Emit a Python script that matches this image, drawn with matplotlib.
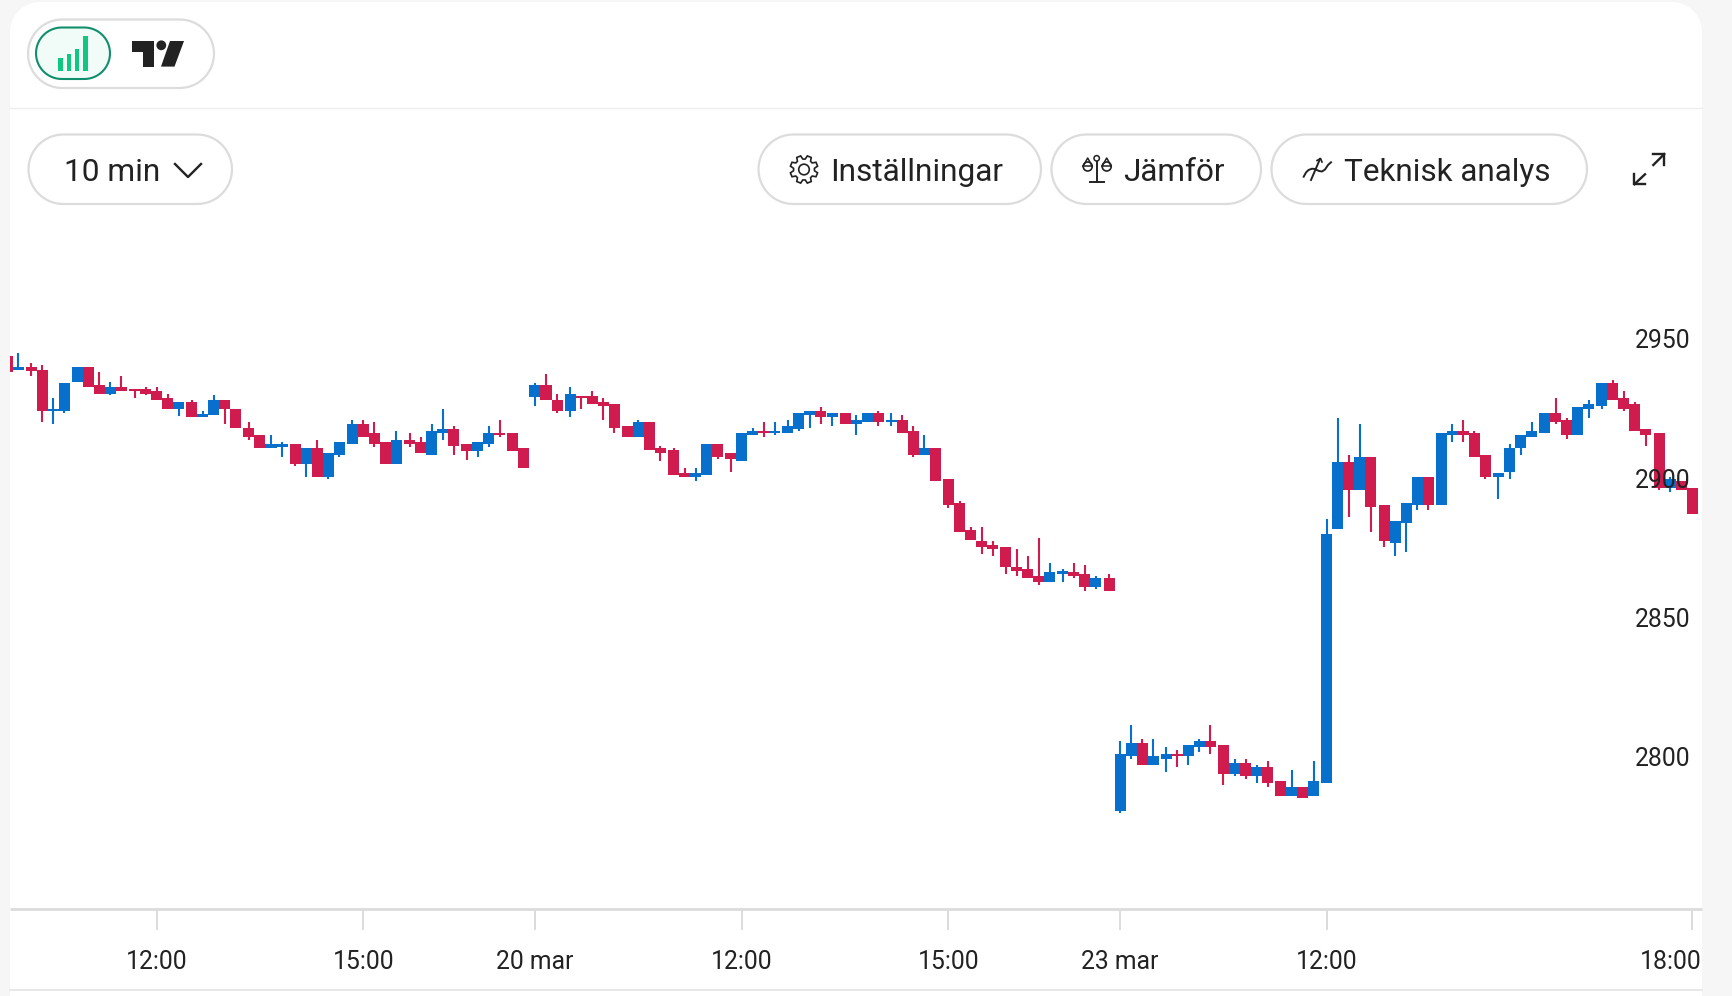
import numpy as np
import matplotlib
matplotlib.use('Agg')
import matplotlib.pyplot as plt
from matplotlib.patches import Circle, Polygon, Rectangle
from matplotlib.transforms import ScaledTranslation

plt.rcParams['font.family'] = ['Roboto', 'DejaVu Sans']

# 10 min candles, one value per bar
opens = [
    2943.7, 2938.9, 2939.7, 2938.9, 2924.1, 2924.1, 2934.3, 2939.7, 2933.4, 2930.3,
    2932.6, 2931.8, 2931.8, 2931.1, 2928.7, 2924.8, 2927.1, 2921.7, 2922.5, 2927.9,
    2924.8, 2917.8, 2915.3, 2910.6, 2911.3, 2912.2, 2905.1, 2910.6, 2900.4, 2908.2,
    2912.2, 2919.2, 2916.1, 2913.0, 2905.1, 2913.7, 2912.9, 2908.2, 2916.1, 2917.7,
    2912.2, 2909.8, 2912.2, 2916.1, 2916.1, 2910.6, 2928.9, 2933.4, 2928.0, 2924.1,
    2929.5, 2929.5, 2927.1, 2926.4, 2918.5, 2914.6, 2920.1, 2910.6, 2909.9, 2901.9,
    2900.5, 2901.2, 2912.2, 2909.1, 2906.0, 2915.4, 2917.0, 2916.1, 2916.1, 2917.7,
    2922.5, 2924.0, 2921.7, 2923.2, 2919.3, 2920.2, 2923.2, 2920.1, 2920.9, 2917.0,
    2908.4, 2910.6, 2899.5, 2890.9, 2881.5, 2877.5, 2876.0, 2875.1, 2868.1, 2867.3,
    2864.9, 2862.6, 2865.7, 2866.4, 2865.7, 2861.0, 2864.2, 2780.6, 2800.2, 2804.9,
    2797.1, 2799.4, 2801.0, 2800.2, 2803.5, 2805.7, 2804.2, 2793.9, 2797.9, 2793.1,
    2796.3, 2791.5, 2786.0, 2789.1, 2786.0, 2790.8, 2881.6, 2905.8, 2895.7, 2907.4,
    2890.2, 2876.8, 2883.9, 2890.2, 2900.3, 2890.2, 2915.4, 2916.8, 2916.1, 2908.2,
    2900.3, 2902.0, 2910.6, 2914.6, 2916.1, 2923.2, 2920.8, 2915.4, 2924.8, 2925.7,
    2934.2, 2928.7, 2926.4, 2917.7, 2916.1, 2896.5, 2898.8, 2896.4]
closes = [
    2938.1, 2939.7, 2938.2, 2924.1, 2924.8, 2934.2, 2939.7, 2932.7, 2930.3, 2932.6,
    2931.2, 2931.2, 2930.3, 2927.9, 2924.8, 2927.1, 2921.7, 2923.0, 2927.9, 2924.8,
    2917.8, 2914.6, 2910.6, 2912.2, 2912.2, 2905.1, 2910.6, 2900.4, 2908.9, 2913.0,
    2919.2, 2914.6, 2912.2, 2905.1, 2913.7, 2912.2, 2909.1, 2916.9, 2917.7, 2911.5,
    2909.8, 2913.0, 2916.1, 2915.3, 2909.8, 2903.5, 2933.4, 2928.1, 2924.1, 2930.3,
    2928.8, 2926.4, 2925.7, 2917.8, 2914.6, 2920.1, 2909.9, 2909.1, 2901.2, 2900.5,
    2901.9, 2912.2, 2907.5, 2906.7, 2916.1, 2917.0, 2916.1, 2917.0, 2918.5, 2923.2,
    2924.0, 2921.7, 2923.2, 2919.3, 2920.9, 2923.2, 2920.2, 2920.9, 2916.3, 2908.4,
    2910.6, 2898.9, 2890.2, 2880.8, 2877.7, 2875.3, 2874.5, 2868.1, 2866.5, 2864.2,
    2862.6, 2866.4, 2866.5, 2865.0, 2861.0, 2864.2, 2859.4, 2801.0, 2804.9, 2797.1,
    2800.2, 2801.0, 2800.2, 2804.2, 2805.7, 2803.5, 2793.9, 2797.9, 2793.1, 2796.3,
    2790.8, 2786.0, 2789.1, 2785.3, 2791.5, 2879.9, 2905.8, 2895.7, 2907.4, 2889.5,
    2877.6, 2884.6, 2890.9, 2900.3, 2890.2, 2916.1, 2916.8, 2915.4, 2907.5, 2900.3,
    2901.9, 2910.6, 2915.3, 2917.0, 2923.2, 2920.1, 2915.4, 2925.6, 2926.4, 2934.2,
    2928.0, 2924.8, 2917.0, 2915.4, 2896.5, 2899.6, 2895.7, 2887.0]
highs = [
    2943.7, 2944.7, 2941.3, 2940.6, 2928.8, 2934.2, 2939.7, 2939.7, 2938.1, 2934.3,
    2936.7, 2931.8, 2932.7, 2932.7, 2930.3, 2927.1, 2927.9, 2923.9, 2929.6, 2927.9,
    2924.8, 2920.1, 2915.3, 2915.3, 2913.0, 2912.2, 2910.6, 2913.8, 2908.9, 2913.0,
    2920.9, 2920.9, 2920.1, 2913.0, 2916.9, 2916.1, 2914.6, 2919.2, 2924.7, 2918.5,
    2912.2, 2913.0, 2918.5, 2920.9, 2916.1, 2910.6, 2934.2, 2937.4, 2930.3, 2932.6,
    2929.5, 2931.1, 2928.8, 2926.4, 2918.5, 2920.9, 2920.1, 2911.5, 2910.6, 2903.6,
    2903.6, 2912.2, 2912.2, 2909.1, 2916.1, 2917.8, 2920.1, 2920.1, 2920.9, 2923.2,
    2924.0, 2925.6, 2923.2, 2923.2, 2922.5, 2923.2, 2924.0, 2923.2, 2922.5, 2918.5,
    2915.4, 2910.6, 2899.5, 2891.8, 2882.3, 2882.3, 2877.5, 2875.1, 2874.4, 2872.0,
    2878.4, 2869.6, 2867.3, 2869.6, 2868.8, 2864.9, 2865.7, 2805.7, 2811.4, 2806.6,
    2806.6, 2803.4, 2802.6, 2804.2, 2806.6, 2811.4, 2804.2, 2799.4, 2799.4, 2797.0,
    2798.6, 2791.5, 2795.5, 2789.1, 2798.6, 2885.4, 2921.6, 2908.2, 2919.2, 2907.4,
    2890.2, 2884.6, 2890.9, 2900.3, 2900.3, 2916.1, 2919.2, 2920.8, 2916.8, 2908.2,
    2901.9, 2912.2, 2915.3, 2920.1, 2923.2, 2928.7, 2921.6, 2925.6, 2928.0, 2934.2,
    2935.0, 2931.1, 2927.1, 2917.7, 2916.1, 2900.5, 2898.8, 2896.4]
lows = [
    2938.1, 2938.9, 2936.7, 2920.2, 2919.4, 2923.4, 2934.3, 2932.7, 2930.3, 2929.6,
    2931.2, 2928.8, 2929.6, 2927.9, 2924.8, 2922.3, 2921.7, 2921.7, 2922.5, 2919.4,
    2917.8, 2913.7, 2910.6, 2910.6, 2907.4, 2904.3, 2900.4, 2900.4, 2899.6, 2907.4,
    2912.2, 2914.6, 2911.3, 2905.1, 2905.1, 2911.3, 2909.1, 2908.2, 2913.7, 2908.2,
    2906.6, 2907.4, 2911.3, 2914.6, 2909.8, 2903.5, 2925.7, 2928.1, 2923.3, 2921.7,
    2924.8, 2926.4, 2920.9, 2916.2, 2914.6, 2914.6, 2909.9, 2906.0, 2901.2, 2900.5,
    2898.8, 2901.2, 2906.7, 2902.0, 2906.0, 2915.4, 2914.6, 2915.3, 2916.1, 2917.0,
    2917.8, 2919.3, 2918.5, 2919.3, 2915.4, 2920.2, 2918.5, 2918.5, 2916.3, 2907.5,
    2908.4, 2898.9, 2889.4, 2880.8, 2877.7, 2872.9, 2872.0, 2865.7, 2865.0, 2864.2,
    2861.8, 2862.6, 2862.6, 2864.2, 2859.4, 2860.2, 2859.4, 2779.8, 2799.4, 2797.1,
    2797.1, 2794.7, 2796.3, 2797.1, 2801.8, 2801.1, 2790.0, 2793.1, 2792.2, 2790.8,
    2789.1, 2786.0, 2786.0, 2785.3, 2786.0, 2790.8, 2881.6, 2886.2, 2895.7, 2880.7,
    2875.1, 2872.0, 2873.6, 2888.6, 2888.6, 2890.2, 2913.0, 2913.0, 2907.5, 2899.6,
    2892.6, 2899.6, 2908.2, 2914.6, 2916.1, 2919.2, 2913.9, 2915.4, 2921.6, 2924.8,
    2928.0, 2924.0, 2917.0, 2911.5, 2895.7, 2894.9, 2895.7, 2887.0]

# bars after which the screen snapping leaves a small gap
wide_steps = [1, 5, 10, 15, 20, 24, 29, 34, 39, 43, 48, 53, 57, 62, 67, 72, 76, 81,
              86, 91, 95, 100, 105, 110, 114, 119, 124, 129, 133, 138, 143]

tick_bars = [13, 31, 46, 64, 82, 97, 115, 147]
tick_labels = ['12:00', '15:00', '20 mar', '12:00', '15:00', '23 mar', '12:00', '18:00']
price_ticks = [2800, 2850, 2900, 2950]

UP = '#0670cc'
DOWN = '#cf1b4e'
INK = '#222222'
RIM = '#dcdcdc'
W, H = 1732, 996

fig = plt.figure(figsize=(W / 100, H / 100), dpi=100, facecolor='#f6f6f6')

# page furniture, drawn in pixel coordinates
ui = fig.add_axes([0, 0, 1, 1])
ui.set_xlim(0, W)
ui.set_ylim(H, 0)
ui.axis('off')


def round_box(x0, y0, x1, y1, r):
    # true circular corners, FancyBboxPatch corners come out too square
    t = np.linspace(0, np.pi / 2, 16)
    pts = []
    for cx, cy, a in [(x1 - r, y0 + r, -np.pi / 2), (x1 - r, y1 - r, 0),
                      (x0 + r, y1 - r, np.pi / 2), (x0 + r, y0 + r, np.pi)]:
        pts.append(np.c_[cx + r * np.cos(t + a), cy + r * np.sin(t + a)])
    return np.vstack(pts)


def pill(x0, y0, x1, y1, edge=RIM, face='white', lw=1.6):
    ui.add_patch(Polygon(round_box(x0, y0, x1, y1, (y1 - y0) / 2), closed=True, fc=face, ec=edge, lw=lw))


# panel with rounded top corners
ui.add_patch(Polygon(round_box(10, 2, 1702, 1100, 30), closed=True, fc='white', ec='none'))
ui.plot([10, 1702], [107.5, 107.5], color='#eeeeee', lw=1)
ui.plot([10, 1702], [990, 990], color='#e4e4e4', lw=1.2)

# toggle
pill(28, 19.5, 214, 88)
pill(36, 27.5, 110, 79, edge='#0f8f6b', face='#f1fbf7', lw=1.5)
for x0, top in zip([58, 66.5, 74.5, 83], [57.5, 53.5, 49, 36]):
    ui.add_patch(Rectangle((x0, top), 4.6, 70.7 - top, fc='#10c77f', ec='none'))
ui.add_patch(Polygon([(132, 41), (153.5, 41), (153.5, 66.6), (142.5, 66.6), (142.5, 51.5), (132, 51.5)],
                     fc=INK, ec='none'))
ui.add_patch(Circle((161.3, 45.3), 4.9, fc=INK, ec='none'))
ui.add_patch(Polygon([(170, 41), (184, 41), (174.5, 66.6), (161, 66.6)], fc=INK, ec='none'))

# buttons
pill(28.5, 134.5, 232, 204)
pill(758.5, 134.5, 1041, 204)
pill(1051.5, 134.5, 1261, 204)
pill(1271.5, 134.5, 1587, 204)
ui.text(64.5, 169, '10 min', fontsize=22.8, color=INK, va='center_baseline')
ui.text(830, 169, 'Inställningar', fontsize=22.8, color=INK, va='center_baseline')
ui.text(1123, 169, 'Jämför', fontsize=22.7, color=INK, va='center_baseline')
ui.text(1344, 169, 'Teknisk analys', fontsize=22.7, color=INK, va='center_baseline')
ui.plot([175, 188, 201], [164, 177, 164], color=INK, lw=1.7)

# gear
ang = np.linspace(0, 2 * np.pi, 8, endpoint=False) + np.pi / 8
gx, gy = [], []
for a in ang:
    for da, rr in [(-0.28, 10.5), (-0.15, 14), (0.15, 14), (0.28, 10.5)]:
        gx.append(804 + rr * np.cos(a + da))
        gy.append(169.5 + rr * np.sin(a + da))
ui.add_patch(Polygon(np.c_[gx, gy], fc='none', ec=INK, lw=1.2))
ui.add_patch(Circle((804, 169.5), 5.3, fc='none', ec=INK, lw=1.2))

# scales
ui.plot([1096.7, 1096.7], [160, 181.7], color=INK, lw=1.4)
ui.plot([1090, 1103.5], [181.7, 181.7], color=INK, lw=1.4)
ui.add_patch(Circle((1096.7, 158.3), 2.7, fc='white', ec=INK, lw=1.1, zorder=3))
for cx in [1087.7, 1106.7]:
    ui.plot([cx - 4.5, cx, cx + 4.5], [166, 158, 166], color=INK, lw=1.1)
    ui.plot([cx - 4.5, cx + 4.5], [166, 166], color=INK, lw=1.1)
    ui.add_patch(Circle((cx, 166.5), 4.5, fc='none', ec=INK, lw=1.2))

# analysis squiggle
ui.plot([1303.7, 1306, 1308.5, 1312, 1315, 1319, 1322, 1325, 1328, 1331],
        [176.7, 172.5, 170, 168.7, 169, 171, 171.5, 169.5, 165, 162.3], color=INK, lw=1.4)
ui.plot([1311, 1320], [180, 159], color=INK, lw=1.4)
ui.plot([1317, 1320.5, 1322], [160.5, 158.5, 162], color=INK, lw=1.2)

# expand icon
for pts in [[(1634.3, 184.3), (1645, 174.3)], [(1634.3, 174.3), (1634.3, 184.3), (1645, 184.3)],
            [(1653.3, 165), (1664.3, 154)], [(1653.3, 154), (1664.3, 154), (1664.3, 165)]]:
    ui.plot(*zip(*pts), color=INK, lw=1.7)

# candles
x_left, x_right = 0.27, 147.66
ax = fig.add_axes([10 / W, 1 - 909 / H, 1692 / W, (909 - 220) / H])
ax.patch.set_alpha(0)

n = len(opens)
steps = np.full(n - 1, 0.9605)
steps[wide_steps] = 1.141
xs = np.r_[0, np.cumsum(steps)]
xs = xs + 46 - xs[46]

o = np.array(opens)
c = np.array(closes)
colors = np.where(c >= o, UP, DOWN)
ax.vlines(xs, lows, highs, colors=colors, lw=1.5, zorder=1)
ax.bar(xs, np.abs(c - o), bottom=np.minimum(o, c), width=0.96, color=colors, lw=0, zorder=1)
ax.set_axisbelow(False)

ax.set_xlim(x_left, x_right)
ax.set_ylim(2745.5, 2992.5)
for s in ['top', 'left', 'right']:
    ax.spines[s].set_visible(False)
ax.spines['bottom'].set_color(RIM)
ax.spines['bottom'].set_linewidth(2)
ax.spines['bottom'].set_capstyle('butt')

ax.set_xticks(xs[tick_bars])
ax.set_xticklabels(tick_labels)
ax.tick_params(axis='x', length=15, width=1.4, color=RIM, pad=14.6, labelsize=17.8, labelcolor=INK)
last = ax.get_xticklabels()[-1]
last.set_ha('right')
last.set_transform(last.get_transform() + ScaledTranslation(0.09, 0, fig.dpi_scale_trans))

ax.yaxis.tick_right()
ax.set_yticks(price_ticks)
ax.tick_params(axis='y', length=0, pad=-8.6, labelsize=17.8, labelcolor=INK)
for t in ax.get_yticklabels():
    t.set_ha('right')

fig.savefig('out.png', dpi=100, facecolor=fig.get_facecolor())
